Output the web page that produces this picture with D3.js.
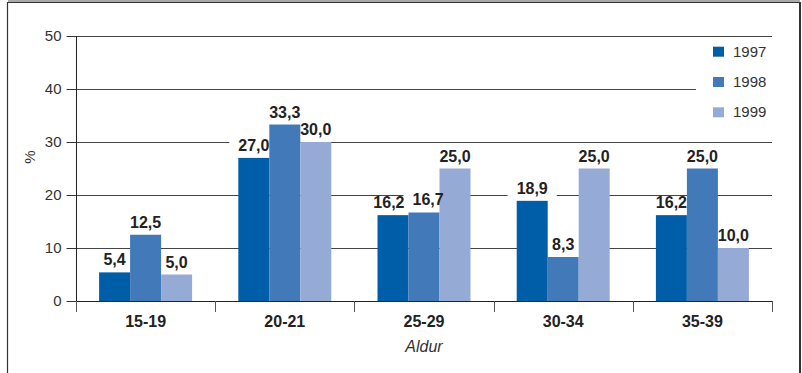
<!DOCTYPE html>
<html>
<head>
<meta charset="utf-8">
<script src="https://cdn.jsdelivr.net/npm/d3@7"></script>
<style>
  html, body { margin: 0; padding: 0; background: #fff; }
  svg { display: block; font-family: "Liberation Sans", Arial, Helvetica, sans-serif; }
</style>
</head>
<body>
<svg id="chart" width="802" height="373"></svg>
<script>
// Age groups and shares (%) per year
const categories = ["15-19", "20-21", "25-29", "30-34", "35-39"];
const years = ["1997", "1998", "1999"];
const values1997 = [5.4, 27.0, 16.2, 18.9, 16.2];
const values1998 = [12.5, 33.3, 16.7, 8.3, 25.0];
const values1999 = [5.0, 30.0, 25.0, 25.0, 10.0];
const yTicks = [0, 10, 20, 30, 40, 50];
const yLabel = "%";
const xLabel = "Aldur";

const seriesValues = [values1997, values1998, values1999];
const colors = ["#005EA8", "#4279B9", "#95ABD6"];

const svg = d3.select("#chart");
const plot = { left: 76, right: 772, top: 36, bottom: 301 };

// Frame
svg.append("rect").attr("x", 8).attr("y", 0).attr("width", 792).attr("height", 2).attr("fill", "#aaa");
svg.append("line").attr("x1", 7).attr("x2", 800).attr("y1", 2.5).attr("y2", 2.5)
  .attr("stroke", "#333").attr("stroke-width", 1.2);
svg.append("line").attr("x1", 7.5).attr("x2", 7.5).attr("y1", 2).attr("y2", 373)
  .attr("stroke", "#333").attr("stroke-width", 1.2);
svg.append("line").attr("x1", 800).attr("x2", 800).attr("y1", 2).attr("y2", 373)
  .attr("stroke", "#333").attr("stroke-width", 2);

const x0 = d3.scaleBand().domain(categories).range([plot.left, plot.right])
  .paddingInner(0.332).paddingOuter(0.166);
const x1 = d3.scaleBand().domain(years).range([0, x0.bandwidth()]);
const y = d3.scaleLinear().domain([0, 50]).range([plot.bottom, plot.top]);

// Gridlines
svg.append("g").selectAll("line").data(yTicks.filter(d => d > 0)).join("line")
  .attr("x1", plot.left).attr("x2", plot.right)
  .attr("y1", d => Math.round(y(d)) + 0.5).attr("y2", d => Math.round(y(d)) + 0.5)
  .attr("stroke", "#444").attr("stroke-width", 1);

// Value label data
const labelData = [];
categories.forEach((c, i) => years.forEach((yr, s) => {
  labelData.push({ g: i, s, cx: x0(c) + x1(yr) + x1.bandwidth() / 2, v: seriesValues[s][i] });
}));
const fmt = v => v.toFixed(1).replace(".", ",");
const labelGap = 7;

// White backing behind labels (hides gridlines only; bars are drawn after)
const bgLayer = svg.append("g");

// Y axis
const yAxis = svg.append("g").attr("transform", `translate(${plot.left + 0.5},0)`)
  .call(d3.axisLeft(y).tickValues(yTicks).tickSize(10).tickPadding(5).tickFormat(d3.format("d")));
yAxis.select(".domain").remove();
yAxis.selectAll(".tick line").attr("stroke", "#333");
yAxis.selectAll(".tick text").attr("font-size", 15).attr("fill", "#333");
svg.append("line").attr("x1", plot.left + 0.5).attr("x2", plot.left + 0.5)
  .attr("y1", plot.top).attr("y2", plot.bottom + 11).attr("stroke", "#222");

svg.append("text").attr("transform", "translate(35,157) rotate(-90)")
  .attr("text-anchor", "middle").attr("font-size", 15).attr("fill", "#333").text(yLabel);

// Bars
const groups = svg.append("g").selectAll("g").data(categories).join("g")
  .attr("transform", c => `translate(${x0(c)},0)`);
groups.selectAll("rect").data((c, i) => years.map((yr, s) => ({ yr, s, v: seriesValues[s][i] })))
  .join("rect")
  .attr("x", d => x1(d.yr)).attr("width", x1.bandwidth())
  .attr("y", d => y(d.v)).attr("height", d => y(0) - y(d.v))
  .attr("fill", d => colors[d.s]);

// X axis
const xAxis = svg.append("g").attr("transform", `translate(0,${plot.bottom + 0.5})`)
  .call(d3.axisBottom(x0).tickSize(0).tickPadding(14));
xAxis.select(".domain").attr("d", `M${plot.left},0H${plot.right}`).attr("stroke", "#222");
xAxis.selectAll(".tick text").attr("font-size", 16).attr("font-weight", "bold").attr("fill", "#222")
  .attr("dy", "0.71em");
const boundaries = categories.map(c => x0(c) - x0.step() * 0.166).concat([plot.right]);
svg.append("g").selectAll("line").data(boundaries).join("line")
  .attr("x1", d => Math.round(d) + 0.5).attr("x2", d => Math.round(d) + 0.5)
  .attr("y1", plot.bottom).attr("y2", plot.bottom + 11).attr("stroke", "#555");

svg.append("text").attr("x", (plot.left + plot.right) / 2).attr("y", 352)
  .attr("text-anchor", "middle").attr("font-size", 16).attr("font-style", "italic")
  .attr("fill", "#333").text(xLabel);

// Value labels
const texts = svg.append("g").selectAll("text").data(labelData).join("text")
  .attr("y", d => y(d.v) - labelGap)
  .attr("text-anchor", "middle").attr("font-size", 16).attr("font-weight", "bold")
  .attr("fill", "#222").text(d => fmt(d.v));
texts.each(function (d) { d.w = this.getComputedTextLength(); d.x = d.cx; });

// Push apart neighbouring labels in a group that sit at about the same height
const minGap = 8;
labelData.forEach((a, k) => {
  const b = labelData[k + 1];
  if (!b || b.g !== a.g) return;
  if (Math.abs(y(a.v) - y(b.v)) >= 12) return;
  const overlap = (a.x + a.w / 2 + minGap) - (b.x - b.w / 2);
  if (overlap > 0) { a.x -= overlap / 2; b.x += overlap / 2; }
});
texts.attr("x", d => d.x);
labelData.forEach(d => {
  bgLayer.append("rect")
    .attr("x", d.x - d.w / 2 - 9).attr("width", d.w + 18)
    .attr("y", y(d.v) - labelGap - 11.5).attr("height", 14.5).attr("fill", "#fff");
});

// Legend
const legend = svg.append("g");
legend.append("rect").attr("x", 696).attr("y", 40).attr("width", 76).attr("height", 86).attr("fill", "#fff");
const items = legend.selectAll("g").data(years).join("g")
  .attr("transform", (d, i) => `translate(713,${56.7 + i * 30.3})`);
items.append("rect").attr("x", 0).attr("y", -10).attr("width", 11).attr("height", 10)
  .attr("fill", (d, i) => colors[i]);
items.append("text").attr("x", 20).attr("y", 0).attr("font-size", 15).attr("fill", "#333").text(d => d);
</script>
</body>
</html>
